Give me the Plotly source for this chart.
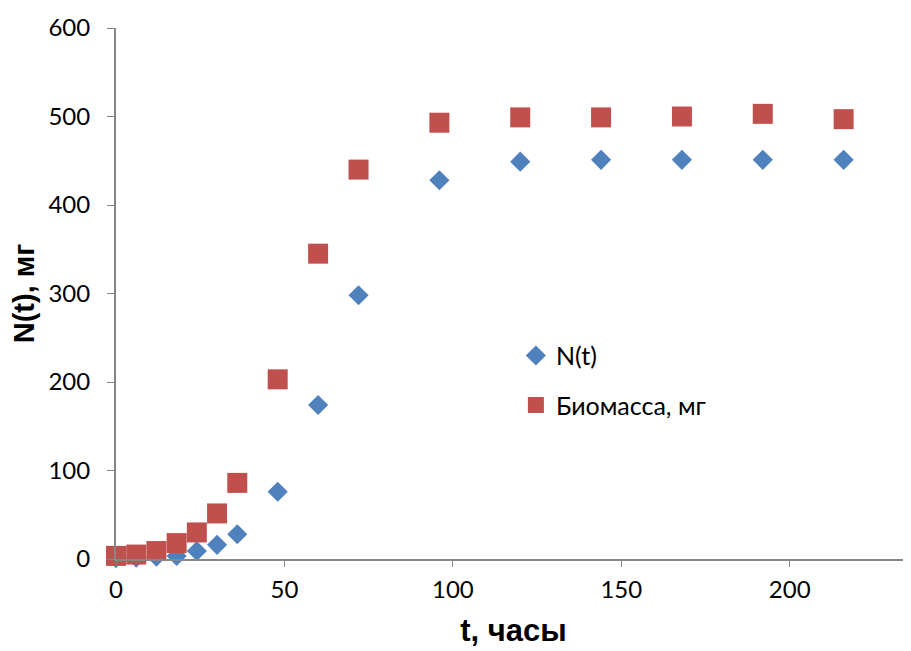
import plotly.graph_objects as go

t_hours = [0, 6, 12, 18, 24, 30, 36, 48, 60, 72, 96, 120, 144, 168, 192, 216]
n_t = [1, 1.5, 2.5, 3.5, 9, 16, 28, 76, 174, 298, 428, 449, 451, 451, 451, 451]
biomass = [3.5, 5, 9, 18, 30, 51.5, 86, 203, 345, 440, 493, 499, 499, 500, 503, 497]

x_ticks = [0, 50, 100, 150, 200]
y_ticks = [0, 100, 200, 300, 400, 500, 600]

BLUE = "#4F81BD"
RED = "#C0504D"
AXIS = "#868686"
TITLE_FONT = "'Liberation Sans', Arial, sans-serif"

fig = go.Figure()
fig.add_trace(go.Scatter(
    x=t_hours, y=n_t, mode="markers", name="N(t)", legendgroup="a",
    marker=dict(symbol="diamond", size=15.5, color=BLUE, line=dict(width=0)),
    cliponaxis=False,
))
fig.add_trace(go.Scatter(
    x=t_hours, y=biomass, mode="markers", name="Биомасса, мг", legendgroup="b",
    marker=dict(symbol="square", size=20, color=RED, line=dict(width=0)),
    cliponaxis=False,
))

fig.update_layout(
    width=903, height=643,
    margin=dict(l=108, r=0, t=20, b=92),
    paper_bgcolor="white", plot_bgcolor="white",
    font=dict(family="Lato, 'Noto Sans', sans-serif", size=24, color="black"),
    showlegend=True,
    legend=dict(
        x=0.503, y=0.426, xanchor="left", yanchor="top",
        bgcolor="rgba(0,0,0,0)", traceorder="grouped", tracegroupgap=14,
        font=dict(size=25), itemwidth=30,
    ),
    xaxis=dict(
        range=[0, 236], tickvals=x_ticks, showgrid=False, zeroline=False,
        showline=True, linecolor=AXIS, linewidth=2, automargin=False,
        ticks="outside", ticklen=6, tickcolor=AXIS, tickwidth=1,
        ticklabelstandoff=2,
        title=dict(text="<b>t, часы</b>", font=dict(family=TITLE_FONT, size=31, color="black"), standoff=18),
    ),
    yaxis=dict(
        range=[0, 600], tickvals=y_ticks, showgrid=False, zeroline=False,
        showline=True, linecolor=AXIS, linewidth=2, automargin=False,
        ticks="outside", ticklen=7, tickcolor=AXIS, tickwidth=1,
        ticklabelstandoff=12,
        title=dict(text="<b>N(t), мг</b>", font=dict(family=TITLE_FONT, size=29, color="black"), standoff=12),
    ),
)

fig.write_html("out.html")
